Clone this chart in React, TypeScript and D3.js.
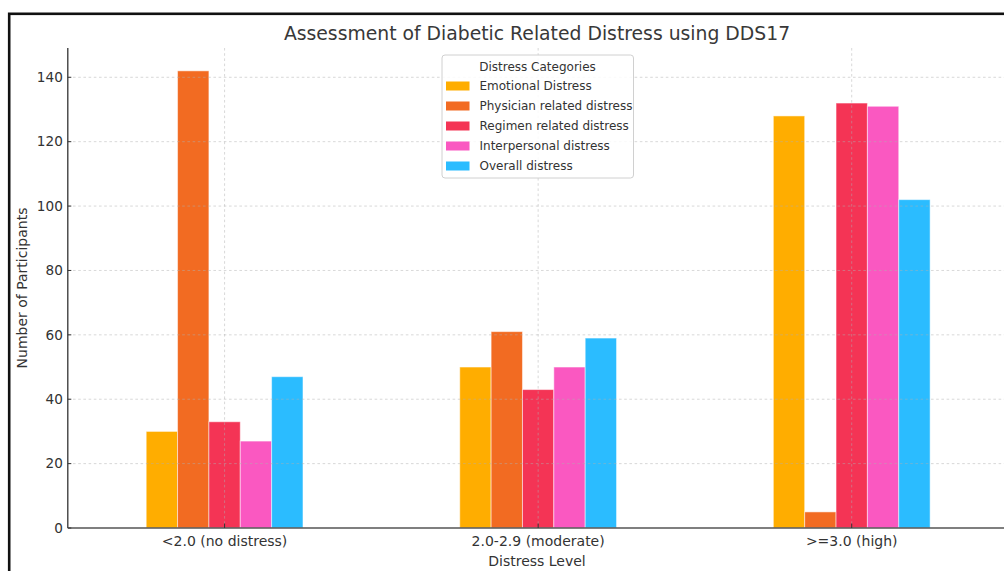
import React from "react";
import * as d3 from "d3";

const categories = ["<2.0 (no distress)", "2.0-2.9 (moderate)", ">=3.0 (high)"];
const seriesNames = [
  "Emotional Distress",
  "Physician related distress",
  "Regimen related distress",
  "Interpersonal distress",
  "Overall distress",
];
const emotional = [30, 50, 128];
const physician = [142, 61, 5];
const regimen = [33, 43, 132];
const interpersonal = [27, 50, 131];
const overall = [47, 59, 102];
const seriesValues = [emotional, physician, regimen, interpersonal, overall];
const seriesColors = ["#FFAD00", "#F26B22", "#F43455", "#FA58C1", "#2BBCFF"];
const yTicks = [0, 20, 40, 60, 80, 100, 120, 140];

const W = 1004;
const H = 571;
const FONT = "DejaVu Sans, sans-serif";

export default function App() {
  const left = 67.8;
  const right = 1008.5;
  const top = 48;
  const bottom = 528;

  const x = d3.scaleBand<string>().domain(categories).range([left, right]).padding(0);
  const bw = x.bandwidth();
  const inner = d3
    .scaleBand<string>()
    .domain(seriesNames)
    .range([-bw * 0.25, bw * 0.25])
    .padding(0);
  const y = d3.scaleLinear().domain([0, 149.1]).range([bottom, top]);

  const cx = (c: string) => (x(c) as number) + bw / 2;

  return (
    <svg
      width={W}
      height={H}
      style={{ position: "absolute", left: 0, top: 0, background: "#fff" }}
      fontFamily={FONT}
    >
      <rect x={0} y={0} width={W} height={H} fill="#fff" />
      {/* frame */}
      <rect x={9.2} y={13.8} width={W + 20} height={H + 20} fill="none" stroke="#111" strokeWidth={2.6} />

      {/* title */}
      <text x={537} y={39.5} textAnchor="middle" fontSize={18.8} fill="#383838">
        Assessment of Diabetic Related Distress using DDS17
      </text>

      {/* bars */}
      {seriesNames.map((s, si) =>
        categories.map((c, ci) => {
          const v = seriesValues[si][ci];
          const bx = cx(c) + (inner(s) as number);
          return (
            <rect
              key={s + c}
              x={bx}
              y={y(v)}
              width={inner.bandwidth()}
              height={y(0) - y(v)}
              fill={seriesColors[si]}
              stroke="#fff"
              strokeOpacity={0.5}
              strokeWidth={1}
            />
          );
        })
      )}

      {/* grid on top */}
      <g stroke="#b0b0b0" strokeOpacity={0.55} strokeWidth={0.9} strokeDasharray="2.6,2.6">
        {yTicks.slice(1).map((t) => (
          <line key={"hg" + t} x1={left} x2={W} y1={y(t)} y2={y(t)} />
        ))}
        {categories.map((c) => (
          <line key={"vg" + c} x1={cx(c)} x2={cx(c)} y1={top} y2={bottom} />
        ))}
      </g>

      {/* spines */}
      <line x1={left} x2={left} y1={top} y2={bottom} stroke="#333" strokeWidth={1.3} />
      <line x1={left} x2={W} y1={bottom} y2={bottom} stroke="#555" strokeWidth={1.6} />

      {/* y ticks */}
      {yTicks.map((t) => (
        <g key={"yt" + t}>
          <line x1={left} x2={left + 3.5} y1={y(t)} y2={y(t)} stroke="#333" strokeWidth={1} />
          <text x={left - 5} y={y(t)} dy="0.35em" textAnchor="end" fontSize={13.6} fill="#333">
            {t}
          </text>
        </g>
      ))}

      {/* x ticks */}
      {categories.map((c) => (
        <g key={"xt" + c}>
          <line x1={cx(c)} x2={cx(c)} y1={bottom} y2={bottom - 4.5} stroke="#333" strokeWidth={1} />
          <text x={cx(c)} y={546} textAnchor="middle" fontSize={14} fill="#333">
            {c}
          </text>
        </g>
      ))}

      {/* axis labels */}
      <text x={537} y={566} textAnchor="middle" fontSize={14} fill="#333">
        Distress Level
      </text>
      <text
        transform={`translate(27, ${(top + bottom) / 2}) rotate(-90)`}
        textAnchor="middle"
        fontSize={14}
        fill="#333"
      >
        Number of Participants
      </text>

      {/* legend */}
      <g>
        <rect x={442} y={55} width={191.5} height={123} rx={3} fill="#fff" fillOpacity={0.85} stroke="#d0d0d0" strokeWidth={1} />
        <text x={537.5} y={70.5} textAnchor="middle" fontSize={12} fill="#333">
          Distress Categories
        </text>
        {seriesNames.map((s, i) => (
          <g key={"lg" + s}>
            <rect x={446} y={81.5 + i * 20} width={23.5} height={9} fill={seriesColors[i]} />
            <text x={479.5} y={86 + i * 20} dy="0.36em" fontSize={12} fill="#333">
              {s}
            </text>
          </g>
        ))}
      </g>
    </svg>
  );
}
